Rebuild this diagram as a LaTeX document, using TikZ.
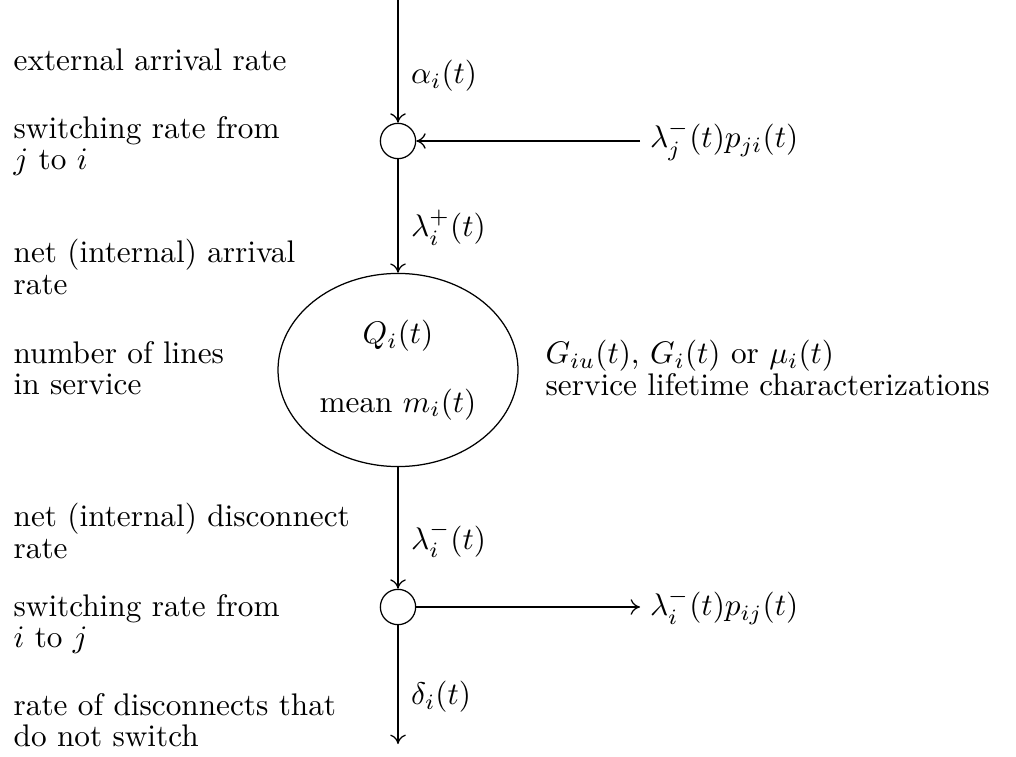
\documentclass[tikz,border=0pt]{standalone}
\usepackage{amsmath}
\usepackage{tikz}
\usetikzlibrary{positioning, arrows.meta, shapes.geometric}

\tikzset{
    flow/.style={-{To[length=3pt,width=5pt]}, line width=0.4pt},
    junction/.style={circle, draw, minimum size=11.3pt, inner sep=0pt},
    notetext/.style={anchor=west, align=left, font=\fontsize{10}{10}\selectfont, inner sep=0pt},
    ratelabel/.style={right, inner sep=4pt}
}

\begin{document}
\begin{tikzpicture}[x=0.32pt, y=-0.32pt]
    \useasboundingbox (0,0) rectangle (1016,756);

    % Main stations on the vertical line
    \coordinate (top) at (398,0);
    \node[junction] (joinA) at (398,141) {};
    \node[ellipse, draw, minimum width=76.8pt, minimum height=61.8pt, inner sep=0pt, align=center] (queue) at (398,370) {$Q_i(t)$\\[10pt]mean $m_i(t)$};
    \node[junction] (splitB) at (398,607) {};
    \coordinate (bottom) at (398,744);

    % Switching flows
    \node[anchor=west, inner sep=3pt] (inlbl) at (640,141) {$\lambda_j^-(t)p_{ji}(t)$};
    \node[anchor=west, inner sep=3pt] (outlbl) at (640,607) {$\lambda_i^-(t)p_{ij}(t)$};

    % Service description
    \node[notetext] (service) at (545,368) {$G_{iu}(t)$, $G_i(t)$ or $\mu_i(t)$\\service lifetime characterizations};

    % Arrows
    \draw[flow] (top) -- (joinA) node[ratelabel, pos=0.62] {$\alpha_i(t)$};
    \draw[flow] (inlbl.west) -- (joinA);
    \draw[flow] (joinA) -- (queue) node[ratelabel, pos=0.6] {$\lambda_i^+(t)$};
    \draw[flow] (queue) -- (splitB) node[ratelabel, pos=0.6] {$\lambda_i^-(t)$};
    \draw[flow] (splitB) -- (outlbl.west);
    \draw[flow] (splitB) -- (bottom) node[ratelabel, pos=0.6] {$\delta_i(t)$};

    % Left column descriptions
    \foreach \y/\txt [count=\i] in {60/{external arrival rate},
                                    146/{switching rate from\\$j$ to $i$},
                                    267/{net (internal) arrival\\rate},
                                    368/{number of lines\\in service},
                                    531/{net (internal) disconnect\\rate},
                                    624/{switching rate from\\$i$ to $j$},
                                    720/{rate of disconnects that\\do not switch}} {
        \node[notetext] (note\i) at (13,\y) {\txt};
    }
\end{tikzpicture}
\end{document}
